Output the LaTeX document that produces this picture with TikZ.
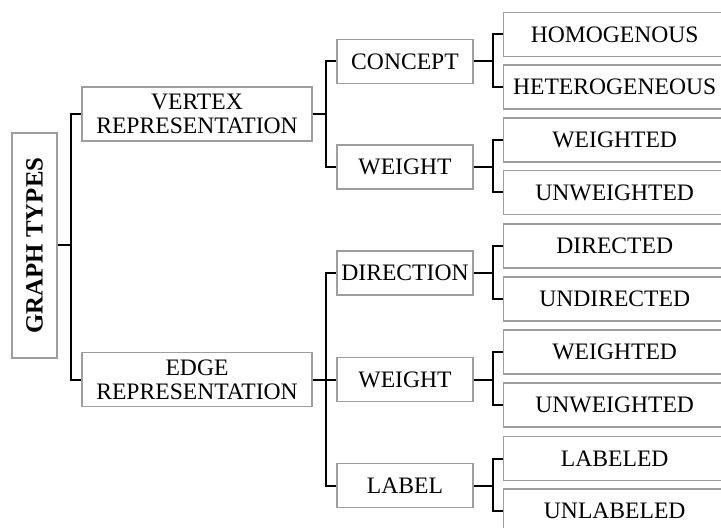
\documentclass[tikz,border=0pt]{standalone}
\usepackage{fontspec}
\setmainfont{Liberation Serif}
\tikzset{
	box/.style={draw=black!38, line width=0.7pt, fill=white, inner sep=0pt, align=center, font=\fontsize{11.8}{12}\selectfont},
	leafbox/.style={box, anchor=west, minimum width=111pt, minimum height=22pt},
	midbox/.style={box, minimum width=68pt, minimum height=22pt},
	repbox/.style={box, minimum width=115pt, minimum height=27pt},
	rootbox/.style={box, minimum width=22.5pt, minimum height=112.5pt, font=\fontsize{12.4}{13}\selectfont\bfseries},
	conn/.style={draw=black, line width=1pt}
}

\begin{document}
\begin{tikzpicture}[x=0.5pt, y=-0.5pt]
			%%%%% START %%%%%
			\useasboundingbox (0, 0) rectangle (721, 528);
			\clip (0, 0) rectangle (721, 528);
			
			% root
			\node[rootbox] (gt) at (34.5, 245.5) {\rotatebox{90}{GRAPH TYPES}};
			
			% representations
			\node[repbox] (vr) at (197, 114) {VERTEX\\REPRESENTATION};
			\node[repbox] (er) at (197, 379.5) {EDGE\\REPRESENTATION};
			
			% second level
			\node[midbox] (concept) at (405, 61.5) {CONCEPT};
			\node[midbox] (vweight) at (405, 167) {WEIGHT};
			\node[midbox] (direction) at (405, 273) {DIRECTION};
			\node[midbox] (eweight) at (405, 379.5) {WEIGHT};
			\node[midbox] (label) at (405, 485.5) {LABEL};
			
			% leaves
			\node[leafbox] (homo) at (503, 34.5) {HOMOGENOUS};
			\node[leafbox] (hetero) at (503, 87) {HETEROGENEOUS};
			\node[leafbox] (vw) at (503, 140) {WEIGHTED};
			\node[leafbox] (vuw) at (503, 192.5) {UNWEIGHTED};
			\node[leafbox] (dir) at (503, 246) {DIRECTED};
			\node[leafbox] (undir) at (503, 299) {UNDIRECTED};
			\node[leafbox] (ew) at (503, 352) {WEIGHTED};
			\node[leafbox] (euw) at (503, 405) {UNWEIGHTED};
			\node[leafbox] (lab) at (503, 458.5) {LABELED};
			\node[leafbox] (unlab) at (503, 511) {UNLABELED};
			
			% connectors
			\draw[conn] (gt.east) -- ++(13, 0) coordinate (j0) |- (vr.west);
			\draw[conn] (j0) |- (er.west);
			
			\draw[conn] (vr.east) -- ++(13, 0) coordinate (j1) |- (concept.west);
			\draw[conn] (j1) |- (vweight.west);
			
			\draw[conn] (er.east) -- ++(13, 0) coordinate (j2) |- (direction.west);
			\draw[conn] (j2) |- (eweight.west);
			\draw[conn] (j2) |- (label.west);
			
			\draw[conn] (concept.east) -- ++(19, 0) coordinate (j3) |- (homo.west);
			\draw[conn] (j3) |- (hetero.west);
			
			\draw[conn] (vweight.east) -- ++(19, 0) coordinate (j4) |- (vw.west);
			\draw[conn] (j4) |- (vuw.west);
			
			\draw[conn] (direction.east) -- ++(19, 0) coordinate (j5) |- (dir.west);
			\draw[conn] (j5) |- (undir.west);
			
			\draw[conn] (eweight.east) -- ++(19, 0) coordinate (j6) |- (ew.west);
			\draw[conn] (j6) |- (euw.west);
			
			\draw[conn] (label.east) -- ++(19, 0) coordinate (j7) |- (lab.west);
			\draw[conn] (j7) |- (unlab.west);
			%%%%% END %%%%%
\end{tikzpicture}
\end{document}
